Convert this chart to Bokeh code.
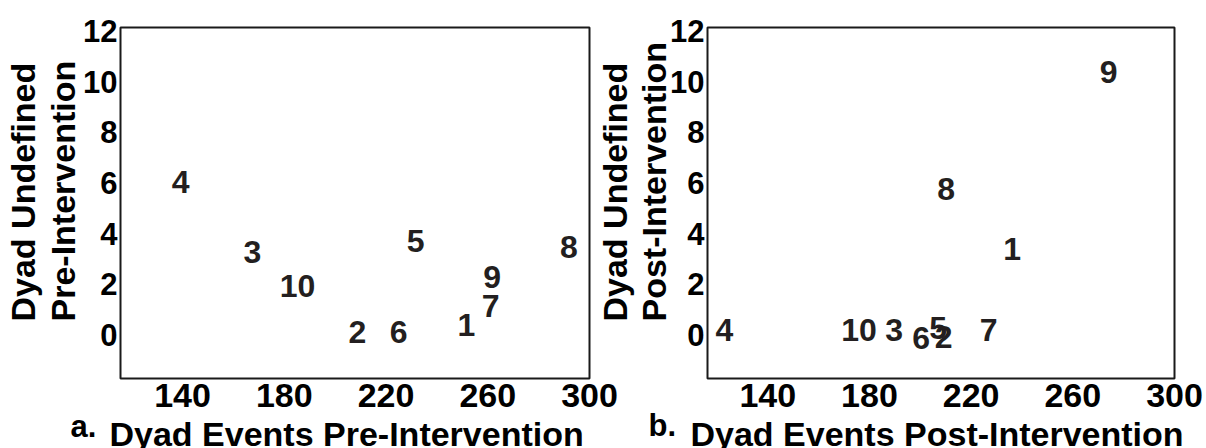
from bokeh.plotting import figure
from bokeh.models import Range1d, FixedTicker, Title, ColumnDataSource
from bokeh.layouts import row
from bokeh.embed import file_html
from bokeh.resources import INLINE
from bokeh.core.properties import value

# ---- data ----
dyads = ["1", "2", "3", "4", "5", "6", "7", "8", "9", "10"]
pre_events = [251.6, 208.7, 167.5, 139.2, 231.6, 225.0, 261.1, 291.9, 261.7, 185.2]
pre_undefined = [0.38, 0.14, 3.28, 6.04, 3.73, 0.14, 1.16, 3.47, 2.31, 1.93]
post_events = [236.1, 209.2, 189.7, 122.9, 207.0, 200.3, 226.9, 210.2, 274.1, 175.9]
post_undefined = [3.38, -0.08, 0.20, 0.20, 0.30, -0.10, 0.22, 5.78, 10.36, 0.20]
x_ticks = [140, 180, 220, 260, 300]
y_ticks = [0, 2, 4, 6, 8, 10, 12]
x_title_a = "Dyad Events Pre-Intervention"
x_title_b = "Dyad Events Post-Intervention"
y_title_1 = "Dyad Undefined"
y_title_a = "Pre-Intervention"
y_title_b = "Post-Intervention"

FONT = "Liberation Sans"
INK = "#231F20"


def title(text, size, align, offset, standoff, valign="bottom"):
    return Title(text=text, align=align, offset=offset, standoff=standoff,
                 vertical_align=valign,
                 text_font=FONT, text_font_style="bold", text_color="black",
                 text_font_size=size)


def make_panel(events, undefined, letter, xtitle, ytitle2, fwidth, mleft, mright,
               x_start, y_standoffs, xoff, letter_off, letter_standoff):
    p = figure(frame_width=fwidth, frame_height=351, output_backend="svg",
               toolbar_location=None,
               x_range=Range1d(x_start, 300), y_range=Range1d(-1.71, 12.13),
               min_border_left=mleft, min_border_right=mright,
               min_border_top=27, min_border_bottom=70)
    p.border_fill_color = None
    p.background_fill_color = "white"
    p.outline_line_color = "#1a1a1a"
    p.outline_line_width = 2
    p.grid.visible = False

    for ax in (p.xaxis[0], p.yaxis[0]):
        ax.axis_line_color = None
        ax.major_tick_line_color = None
        ax.minor_tick_line_color = None
        ax.major_tick_in = 0
        ax.major_tick_out = 0
        ax.minor_tick_in = 0
        ax.minor_tick_out = 0
        ax.major_label_text_font = FONT
        ax.major_label_text_font_style = "bold"
        ax.major_label_text_color = "black"
    p.xaxis[0].ticker = FixedTicker(ticks=x_ticks)
    p.yaxis[0].ticker = FixedTicker(ticks=y_ticks)
    p.xaxis[0].major_label_text_font_size = "34px"
    p.yaxis[0].major_label_text_font_size = "31px"
    p.xaxis[0].major_label_standoff = 5
    p.yaxis[0].major_label_standoff = 3

    src = ColumnDataSource(dict(x=events, y=undefined, t=dyads))
    p.text(x="x", y="y", text="t", source=src, text_font=value(FONT),
           text_font_style="bold", text_font_size="32px", text_color=INK,
           text_align="center", text_baseline="middle")

    # y titles: nearest the frame first
    p.add_layout(title(ytitle2, "34px", "left", 57, y_standoffs[0]), "left")
    p.add_layout(title(y_title_1, "34px", "left", 57, y_standoffs[1]), "left")
    # x title and panel letter
    p.add_layout(title(xtitle, "34px", "left", xoff, 6), "below")
    p.add_layout(title(letter, "31px", "left", letter_off, letter_standoff, "top"), "below")
    return p


pa = make_panel(pre_events, pre_undefined, "a.", x_title_a, y_title_a,
                fwidth=469, mleft=120, mright=31, x_start=115.6,
                y_standoffs=(-3, 3), xoff=-11, letter_off=-50, letter_standoff=-93)
pb = make_panel(post_events, post_undefined, "b.", x_title_b, y_title_b,
                fwidth=467, mleft=130, mright=32, x_start=116.3,
                y_standoffs=(-10, 8), xoff=-17, letter_off=-59, letter_standoff=-95)
pb.margin = (0, 0, 0, -43)

layout = row(pa, pb)
open("out.html", "w").write(file_html(layout, INLINE))
